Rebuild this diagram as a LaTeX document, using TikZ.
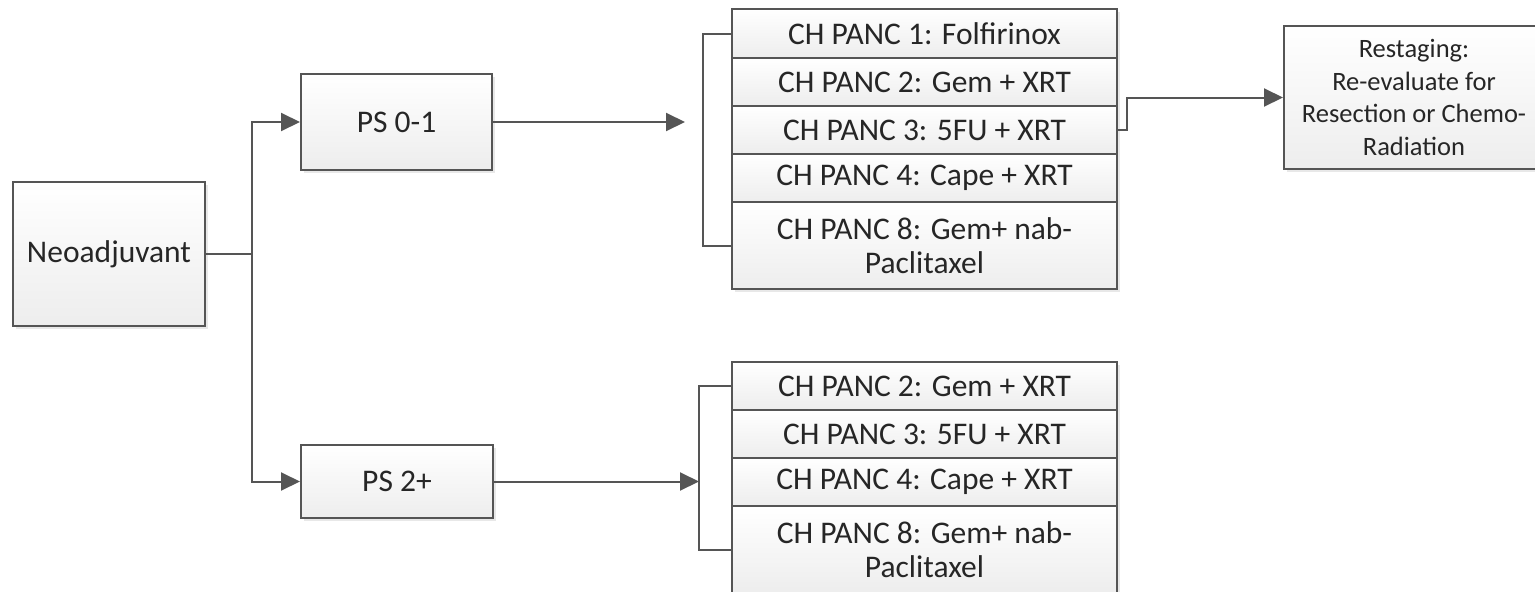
\documentclass[tikz,border=0pt]{standalone}
\usepackage{fontspec}
\setmainfont{Carlito}
\usetikzlibrary{arrows.meta}
\definecolor{edge}{HTML}{555555}
\definecolor{txt}{HTML}{262626}
\tikzset{
  box/.style={draw=edge, line width=2pt, top color=white, bottom color=gray!14,
    anchor=north west, inner sep=0pt, align=center, text=txt,
    font=\fontsize{31.5}{33.5}\selectfont,
    preaction={draw=none, fill=black!18, opacity=0.5, transform canvas={shift={(2.5pt,-2.5pt)}}}},
  smalltext/.style={font=\fontsize{26.5}{32.5}\selectfont, text=txt},
  conn/.style={draw=edge, line width=2pt},
  arr/.style={conn, -{Triangle[length=19pt,width=18pt]}},
}
\begin{document}
\begin{tikzpicture}[x=1pt,y=-1pt]
\useasboundingbox (0,0) rectangle (1535,592);
\begin{scope}
\clip (0,0) rectangle (1535,592);
% left
\node[box, minimum width=192pt, minimum height=144pt] (neo) at (12,181) {Neoadjuvant};
\node[box, minimum width=191pt, minimum height=96pt] (ps01) at (300,73) {PS 0-1};
\node[box, minimum width=192pt, minimum height=73pt] (ps2) at (300,444) {PS 2+};
% top stack
\node[box, minimum width=385pt, minimum height=49pt] (t1) at (731,8) {CH PANC 1: Folfirinox};
\node[box, minimum width=385pt, minimum height=48pt] (t2) at (731,57) {CH PANC 2: Gem + XRT};
\node[box, minimum width=385pt, minimum height=48pt] (t3) at (731,105) {CH PANC 3: 5FU + XRT};
\node[box, minimum width=385pt, minimum height=48pt] (t4) at (731,153) {CH PANC 4: Cape + XRT};
\node[box, minimum width=385pt, minimum height=87pt] (t5) at (731,201) {CH PANC 8: Gem+ nab-\\Paclitaxel};
% restaging
\node[box, smalltext, minimum width=260pt, minimum height=143pt] (rs) at (1283,25) {Restaging:\\Re-evaluate for\\Resection or Chemo-\\Radiation};
% bottom stack
\node[box, minimum width=385pt, minimum height=48pt] (b1) at (731,361) {CH PANC 2: Gem + XRT};
\node[box, minimum width=385pt, minimum height=48pt] (b2) at (731,409) {CH PANC 3: 5FU + XRT};
\node[box, minimum width=385pt, minimum height=48pt] (b3) at (731,457) {CH PANC 4: Cape + XRT};
\node[box, minimum width=385pt, minimum height=87pt] (b4) at (731,505) {CH PANC 8: Gem+ nab-\\Paclitaxel};
\end{scope}
% connectors
\coordinate (jx) at (252,0);
\coordinate (j) at (neo.east -| jx);
\draw[conn] (neo.east) -- (j);
\draw[arr] (j) |- (ps01.west);
\draw[arr] (j) |- (ps2.west);
\coordinate (tx) at (685,0);
\coordinate (topend) at (ps01.east -| tx);
\draw[arr] (ps01.east) -- (topend);
\coordinate (tb) at (703,0);
\draw[conn] (t1.west) -- (t1.west -| tb) |- (t5.west);
\coordinate (bb) at (699,0);
\draw[conn] (b1.west) -- (b1.west -| bb) |- (b4.west);
\draw[arr] (ps2.east) -- (ps2.east -| bb);
\coordinate (rb) at (1127,0);
\draw[arr] (t3.east) -- (t3.east -| rb) |- (rs.west);
\end{tikzpicture}
\end{document}
